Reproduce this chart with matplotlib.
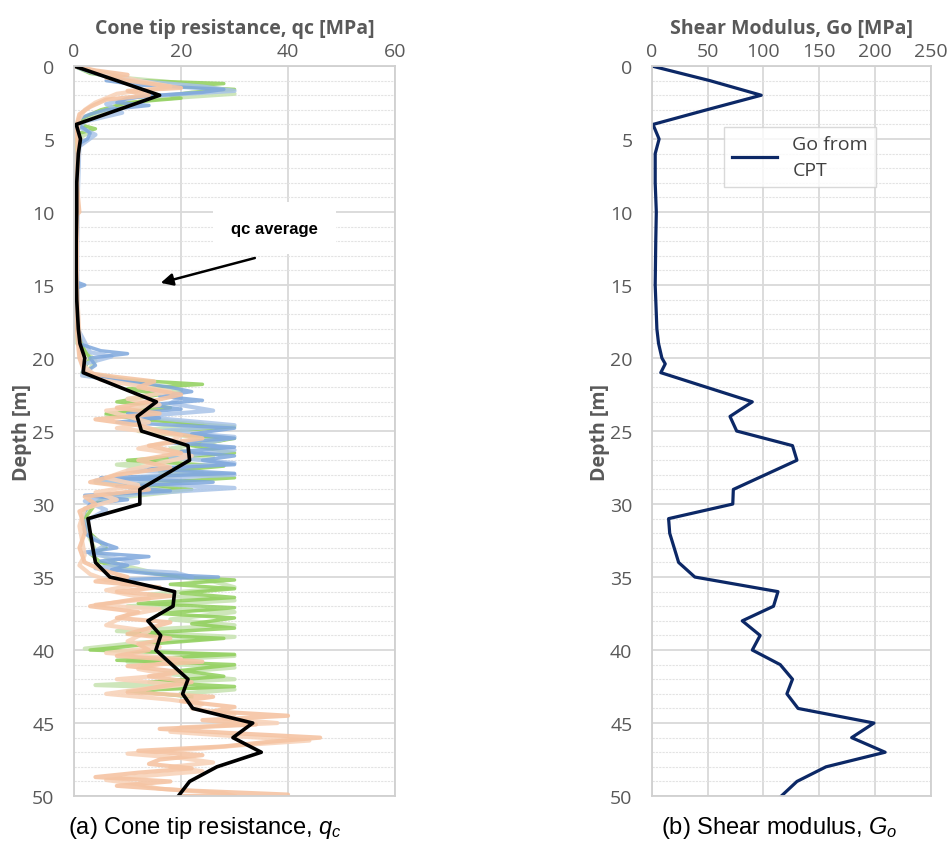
import matplotlib
matplotlib.use("Agg")
import matplotlib.pyplot as plt
from matplotlib.ticker import MultipleLocator

# ---- data ----
# CPT traces: (depth m, qc MPa)
blue_d = [0, 0.5, 0.8, 1.0, 1.3, 1.6, 1.8, 2.0, 2.2, 2.5, 2.7, 3.0, 3.3, 3.6, 4.0, 4.3, 4.6, 5.0, 5.3, 6, 8, 10, 12, 14, 14.8, 15, 15.2, 17, 19,
          19.5, 19.7, 20, 20.5, 21, 21.3, 21.7, 22, 22.3, 22.6, 22.9, 23.2, 23.5, 23.8, 24.1, 24.4, 24.8, 25.2, 25.5, 25.8, 26.1, 26.4,
          26.7, 27, 27.3, 27.6, 27.9, 28.2, 28.5, 28.8, 29.1, 29.4, 29.7, 30, 30.5, 31, 31.5, 32, 32.5, 33, 33.3, 33.6, 33.9, 34.2,
          34.5, 34.8, 35.0, 35.2]
blue_q = [0, 5, 10, 6, 12, 28, 24, 16, 10, 8, 14, 6, 3, 1, 0.5, 2, 3, 2.5, 1, 0.5, 0.6, 0.5, 0.5, 0.6, 0.5, 2, 0.5, 0.5, 0.8,
          5, 10, 3, 4, 2, 6, 12, 18, 22, 16, 24, 14, 20, 10, 16, 8, 30, 22, 30, 18, 30, 20,
          30, 24, 30, 14, 30, 5, 26, 8, 18, 2, 10, 3, 2, 1.5, 2, 2, 4, 8, 2, 14, 5, 10,
          7, 15, 27, 6]

lblue_d = [0, 0.4, 0.9, 1.4, 1.7, 2.1, 2.6, 3.2, 3.8, 4.2, 4.7, 5.5, 9, 13, 18, 19.6, 19.9, 20.4, 21.2, 21.6, 22.1, 22.7, 23.1,
           23.6, 24.0, 24.6, 25.0, 25.4, 25.9, 26.3, 26.8, 27.2, 27.7, 28.0, 28.4, 28.9, 29.3, 29.8, 30.4, 31.2, 32.2, 32.8,
           33.4, 34.0, 34.4, 34.7, 35.0]
lblue_q = [0, 3, 8, 24, 30, 12, 6, 9, 2, 1, 4, 1, 0.7, 0.6, 0.7, 3, 7, 2, 1.5, 10, 14, 20, 18, 26, 12, 30, 16, 30, 24, 30, 18,
           30, 10, 30, 4, 30, 12, 2, 6, 2, 3, 6, 3, 12, 4, 19, 22]

green_d = [0, 0.5, 1.0, 1.2, 1.4, 1.6, 1.8, 2.0, 2.2, 2.5, 3.0, 3.5, 4.0, 4.3, 4.6, 5.0, 10, 18, 19.5, 20, 21, 21.5, 21.8, 22.1,
           22.5, 23.0, 23.4, 23.8, 24.2, 24.7, 25.1, 25.5, 26.0, 26.5, 27.0, 27.4, 27.8, 28.2, 28.6, 29.0, 29.4, 30, 31, 32, 33,
           33.4, 34, 34.5, 35.0, 35.2, 35.5, 35.8, 36.1, 36.4, 36.8, 37.1, 37.5, 37.8, 38.2, 38.5, 38.9, 39.2, 39.6, 40.0, 40.3,
           40.7, 41.0, 41.4, 41.8, 42.2, 42.5, 42.8, 43.0, 43.2]
green_q = [0, 3, 12, 28, 20, 30, 22, 18, 20, 10, 5, 2, 1, 4, 1, 0.5, 0.5, 0.5, 2, 3, 1.5, 10, 24, 10,
           16, 8, 18, 6, 12, 30, 14, 30, 22, 30, 10, 28, 16, 30, 12, 22, 6, 4, 2, 3, 6,
           3, 5, 10, 20, 30, 18, 30, 20, 30, 12, 30, 16, 30, 22, 30, 10, 28, 14, 3, 30,
           8, 30, 20, 28, 14, 30, 10, 16, 22]

lgreen_d = [0, 0.7, 1.1, 1.5, 1.9, 2.3, 2.8, 3.4, 4.1, 4.5, 5, 12, 19, 20.2, 21.2, 21.7, 22.2, 22.8, 23.3, 23.9, 24.5, 25.0,
            25.6, 26.2, 26.8, 27.3, 27.9, 28.5, 29.1, 29.7, 30.5, 32, 33.2, 34.1, 34.8, 35.3, 35.7, 36.2, 36.6, 37.0, 37.4,
            37.9, 38.3, 38.7, 39.1, 39.5, 39.9, 40.4, 40.8, 41.2, 41.6, 42.0, 42.4, 42.7, 43.0]
lgreen_q = [0, 6, 18, 26, 30, 14, 8, 3, 1, 3, 0.6, 0.5, 0.6, 4, 2, 12, 20, 10, 14, 6, 24, 12, 28, 18, 26, 8, 24, 4, 20, 5,
            2, 2.5, 4, 8, 16, 26, 30, 14, 30, 10, 30, 18, 30, 8, 30, 12, 2, 30, 10, 30, 16, 30, 4, 30, 20]

orange_d = [0, 0.3, 0.6, 0.8, 1.2, 1.5, 1.7, 2.0, 2.3, 2.8, 3.3, 4, 6, 8, 10, 10.2, 14, 18, 20, 21, 21.3, 21.6, 22, 22.5, 23,
            23.4, 23.8, 24.2, 24.6, 25, 25.5, 26, 26.5, 27, 27.5, 28, 28.5, 29, 29.5, 30, 30.5, 31, 32, 33, 34, 34.5, 35,
            35.3, 35.7, 36, 36.3, 36.6, 37, 37.4, 37.8, 38.1, 38.5, 38.9, 39.2, 39.6, 40, 40.4, 40.8, 41.1, 41.5, 41.8, 42.2,
            42.5, 42.9, 43.2, 43.5, 43.9, 44.2, 44.5, 44.8, 45.1, 45.4, 45.7, 46, 46.3, 46.6, 46.9, 47.2, 47.5, 47.8, 48.1,
            48.4, 48.7, 49, 49.3, 49.6, 49.9, 50]
orange_q = [0, 4, 10, 6, 14, 20, 10, 14, 6, 3, 1, 0.5, 0.8, 0.5, 1, 0.5, 0.5, 0.5, 1, 2, 8, 15, 12, 20, 14,
            8, 16, 4, 12, 16, 24, 14, 20, 12, 18, 8, 3, 14, 2, 4, 1, 1.5, 2, 1, 2, 5, 10,
            4, 16, 8, 18, 10, 3, 12, 8, 18, 14, 10, 18, 12, 14, 8, 24, 10, 20, 14, 22,
            16, 10, 26, 20, 30, 26, 40, 24, 34, 16, 30, 46, 36, 28, 12, 24, 16, 14, 22,
            12, 4, 18, 8, 20, 40, 20]

lorange_d = [0, 0.5, 1.0, 1.4, 1.9, 2.5, 3.0, 3.6, 4.5, 9, 15, 19.8, 20.6, 21.5, 21.9, 22.3, 22.8, 23.2, 23.6, 24.0, 24.4,
             24.8, 25.3, 25.7, 26.2, 26.7, 27.2, 27.7, 28.2, 28.7, 29.2, 29.7, 30.3, 31.5, 32.5, 33.5, 34.2, 34.8, 35.2, 35.5,
             35.9, 36.5, 36.9, 37.2, 37.6, 38.3, 38.7, 39.4, 39.8, 40.2, 40.6, 41.3, 41.7, 42.0, 42.4, 42.7, 43.0, 43.4,
             43.7, 44.0, 44.4, 44.7, 45.0, 45.3, 45.6, 45.9, 46.2, 46.5, 46.8, 47.1, 47.4, 47.7, 48.0, 48.3, 48.6, 48.9,
             49.2, 49.5, 49.8, 50.0]
lorange_q = [0, 6, 12, 18, 8, 4, 2, 1, 0.6, 0.6, 0.5, 1.2, 2, 5, 12, 18, 10, 16, 6, 10, 14, 8, 20, 18, 12, 22, 16, 10, 6,
             12, 4, 8, 2, 1, 1.5, 2, 1, 3, 6, 12, 6, 14, 4, 16, 10, 6, 14, 10, 16, 6, 20, 12, 18, 8, 20, 12, 6, 18,
             24, 22, 30, 28, 38, 20, 18, 30, 44, 32, 22, 10, 20, 26, 18, 24, 14, 6, 12, 16, 28, 30]

# qc average
avg_d = [0, 2, 4, 5, 6, 8, 10, 12, 14, 16, 18, 19, 20, 21, 23, 24, 25, 26, 27, 29, 30, 31, 33, 34, 35, 36, 37, 38, 39, 40,
         42, 43, 44, 45, 46, 47, 48, 49, 50]
avg_q = [0, 16, 0.4, 1.2, 0.8, 0.5, 0.5, 0.4, 0.4, 0.5, 0.8, 1.1, 2.0, 1.7, 15.4, 11.8, 12.6, 21.3, 21.6, 12.3, 12.3, 2.6, 3.5,
         4.0, 6.7, 18.8, 18.5, 13.8, 16.2, 15.3, 21.3, 20.3, 22.2, 33.4, 29.7, 35.0, 26.7, 21.6, 19.5]

# shear modulus Go from CPT
go_d = [0, 1, 2, 3, 4, 5, 6, 8, 10, 12, 15, 18, 19, 20, 20.4, 21, 23, 24, 25, 26, 27, 29, 30, 31, 32, 34, 35, 36, 37, 38,
        39, 40, 41, 42, 43, 44, 45, 46, 47, 48, 49, 50]
go_v = [0, 52, 98, 49, 1, 6.5, 3, 3, 4, 3.5, 3, 4.5, 6, 9, 12, 8, 90, 70, 76, 126, 130, 73, 72.5, 15, 16, 24, 38.5, 113, 109,
        81, 97, 90, 115, 126, 121, 131, 199, 179, 209, 156, 130, 116]

grey_txt = "#595959"
plt.rcParams["font.family"] = ["Open Sans", "DejaVu Sans"]

fig = plt.figure(figsize=(9.53, 8.54), dpi=100)
ax1 = fig.add_axes([0.0777, 0.0667, 0.3368, 0.8548])
ax2 = fig.add_axes([0.684, 0.0667, 0.2928, 0.8548])


def style(ax, xmax, xstep, xlabel):
    ax.set_xlim(0, xmax)
    ax.set_ylim(50, 0)
    ax.xaxis.set_major_locator(MultipleLocator(xstep))
    ax.yaxis.set_major_locator(MultipleLocator(5))
    ax.yaxis.set_minor_locator(MultipleLocator(1))
    ax.xaxis.tick_top()
    ax.xaxis.set_label_position("top")
    ax.tick_params(which="both", length=0, labelsize=14, labelcolor=grey_txt)
    ax.tick_params(axis="x", pad=4)
    ax.tick_params(axis="y", pad=14)
    ax.grid(which="major", color="#d9d9d9", lw=1.3)
    ax.grid(which="minor", axis="y", color="#e3e3e3", lw=0.8, ls=(0, (2, 1)))
    ax.set_axisbelow(True)
    for s in ax.spines.values():
        s.set_color("#d0d0d0")
        s.set_linewidth(1.3)
    ax.set_xlabel(xlabel, fontsize=14, fontweight="bold", color=grey_txt, labelpad=7)
    ax.set_ylabel("Depth [m]", fontsize=14, fontweight="bold", color=grey_txt, labelpad=0)


style(ax1, 60, 20, "Cone tip resistance, qc [MPa]")
style(ax2, 250, 50, "Shear Modulus, Go [MPa]")

# CPT traces
ax1.plot(lgreen_q, lgreen_d, color="#c9e4b4", lw=3, alpha=0.9)
ax1.plot(green_q, green_d, color="#8fcf5a", lw=2.5, alpha=0.85)
ax1.plot(lblue_q, lblue_d, color="#a9c4e8", lw=3, alpha=0.85)
ax1.plot(blue_q, blue_d, color="#7ea7dc", lw=2.5, alpha=0.85)
ax1.plot(lorange_q, lorange_d, color="#f8d3ba", lw=3, alpha=0.9)
ax1.plot(orange_q, orange_d, color="#f5c4a3", lw=3, alpha=0.9)
ax1.plot(avg_q, avg_d, color="black", lw=2.6)

ax1.text(37.5, 11.1, "qc average", ha="center", va="center", fontsize=12, fontweight="bold",
         family=["Liberation Sans", "DejaVu Sans"],
         bbox=dict(boxstyle="square,pad=1.1", fc="white", ec="none"))
ax1.annotate("", xy=(15.7, 14.9), xytext=(34.3, 13.1),
             arrowprops=dict(arrowstyle="-|>", color="black", lw=1.8, mutation_scale=18))

ax2.plot(go_v, go_d, color="#0c2866", lw=2.3, label="Go from\nCPT")
leg = ax2.legend(loc="upper left", bbox_to_anchor=(0.225, 0.93), fontsize=14, frameon=True,
                 fancybox=False, edgecolor="#d0d0d0", handlelength=2.3, borderpad=0.4, labelspacing=0.2)
for t in leg.get_texts():
    t.set_color("#404040")
    t.set_linespacing(1.6)

plt.rcParams["mathtext.fontset"] = "custom"
plt.rcParams["mathtext.it"] = "Liberation Sans:italic"
plt.rcParams["mathtext.rm"] = "Liberation Sans"
cap = ["Liberation Sans Narrow", "Liberation Sans", "DejaVu Sans"]
fig.text(0.215, 0.03, r"(a) Cone tip resistance, $q_c$", ha="center", va="center", fontsize=17, family=cap)
fig.text(0.818, 0.03, r"(b) Shear modulus, $G_o$", ha="center", va="center", fontsize=17, family=cap)

fig.savefig("out.png", dpi=100)
